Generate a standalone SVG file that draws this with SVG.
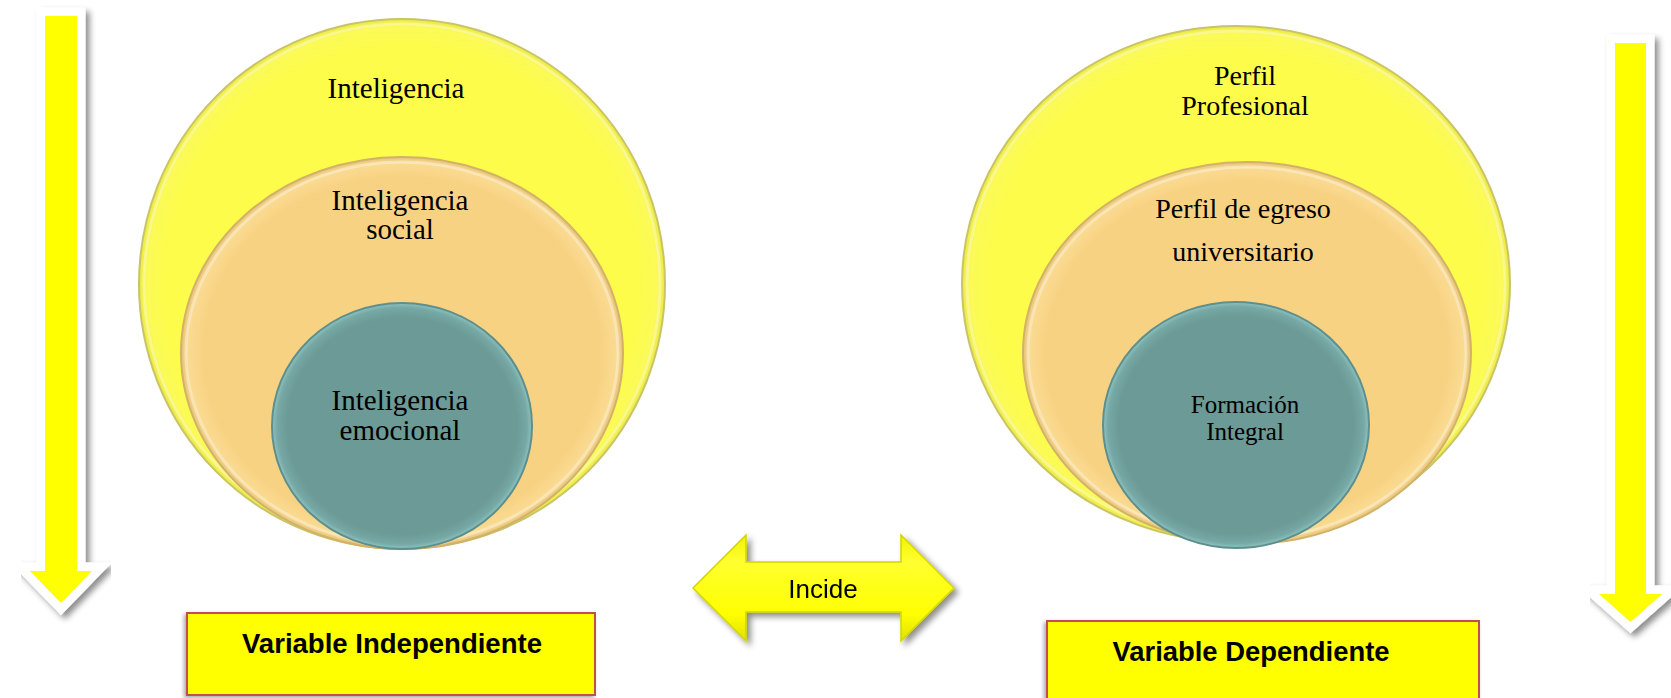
<svg xmlns="http://www.w3.org/2000/svg" width="1671" height="698" viewBox="0 0 1671 698">
<style>
.serif{font-family:"Liberation Serif","Times New Roman",serif;fill:#000;text-anchor:middle}
.sans{font-family:"Liberation Sans",Arial,sans-serif;fill:#000;text-anchor:middle}
.yc{fill:url(#gY);stroke:#c9c466;stroke-width:2}
.oc{fill:url(#gO);stroke:#d1b26a;stroke-width:2}
.tc{fill:url(#gT);stroke:#5f8f8c;stroke-width:2}
.ring{fill:none;stroke:#ffffff;stroke-opacity:0.35;stroke-width:3}
.box{fill:#ffff00;stroke:#c0504d;stroke-width:2}
.down{fill:#ffff00;stroke:#ffffff;stroke-width:17;stroke-linejoin:miter;stroke-miterlimit:6;paint-order:stroke}
</style>
<defs>
<filter id="sh" x="-20%" y="-20%" width="150%" height="150%">
<feGaussianBlur in="SourceAlpha" stdDeviation="3"/>
<feOffset dx="4" dy="4" result="b"/>
<feComponentTransfer><feFuncA type="linear" slope="0.45"/></feComponentTransfer>
<feMerge><feMergeNode/><feMergeNode in="SourceGraphic"/></feMerge>
</filter>
<filter id="sh2" x="-10%" y="-10%" width="120%" height="120%">
<feGaussianBlur in="SourceAlpha" stdDeviation="2"/>
<feOffset dx="-2" dy="2" result="b"/>
<feComponentTransfer><feFuncA type="linear" slope="0.35"/></feComponentTransfer>
<feMerge><feMergeNode/><feMergeNode in="SourceGraphic"/></feMerge>
</filter>
<radialGradient id="gY" cx="50%" cy="50%" r="50%">
<stop offset="0.9" stop-color="#fdfc4b"/>
<stop offset="0.97" stop-color="#fbfa58"/>
<stop offset="1" stop-color="#ecea45"/>
</radialGradient>
<radialGradient id="gO" cx="50%" cy="50%" r="50%">
<stop offset="0.9" stop-color="#f8d283"/>
<stop offset="0.97" stop-color="#fadb92"/>
<stop offset="1" stop-color="#e8c378"/>
</radialGradient>
<radialGradient id="gT" cx="50%" cy="50%" r="50%">
<stop offset="0.88" stop-color="#6c9a96"/>
<stop offset="0.96" stop-color="#76a8a5"/>
<stop offset="1" stop-color="#8cc4c2"/>
</radialGradient>
<linearGradient id="gA" x1="0" y1="0" x2="0" y2="1">
<stop offset="0" stop-color="#f2f200"/>
<stop offset="0.25" stop-color="#ffff30"/>
<stop offset="0.75" stop-color="#ffff00"/>
<stop offset="1" stop-color="#e0e000"/>
</linearGradient>
</defs>

<g id="connectors">
<path id="arrow-left-down" class="down" filter="url(#sh)" d="M45,16 H77 V571 H92 L61,603 L30,571 H45 Z"/>
<path id="arrow-right-down" class="down" filter="url(#sh)" d="M1615,43 H1646 V594 H1662 L1630.5,622 L1599,594 H1615 Z"/>
<g id="incide" filter="url(#sh)">
<path d="M693,588 L746,535 L746,562 L901,562 L901,535 L954,588 L901,641 L901,612 L746,612 L746,641 Z" fill="url(#gA)" stroke="#d4d400" stroke-width="1.5"/>
<text class="sans" x="823" y="598" font-size="26">Incide</text>
</g>
</g>

<g id="left-set">
<g id="inteligencia">
<ellipse class="yc" cx="402" cy="284" rx="263" ry="265"/>
<ellipse class="ring" cx="402" cy="284" rx="258" ry="260"/>
<text class="serif" x="396" y="98" font-size="29">Inteligencia</text>
</g>
<g id="inteligencia-social">
<ellipse class="oc" cx="402" cy="353" rx="221" ry="196"/>
<ellipse class="ring" cx="402" cy="353" rx="216" ry="191"/>
<text class="serif" x="400" y="210" font-size="29">Inteligencia</text>
<text class="serif" x="400" y="239" font-size="29">social</text>
</g>
<g id="inteligencia-emocional">
<ellipse class="tc" cx="402" cy="426" rx="130" ry="123"/>
<text class="serif" x="400" y="410" font-size="29">Inteligencia</text>
<text class="serif" x="400" y="440" font-size="29">emocional</text>
</g>
</g>

<g id="right-set">
<g id="perfil-profesional">
<ellipse class="yc" cx="1236" cy="284" rx="274" ry="258"/>
<ellipse class="ring" cx="1236" cy="284" rx="269" ry="253"/>
<text class="serif" x="1245" y="85" font-size="28">Perfil</text>
<text class="serif" x="1245" y="115" font-size="28">Profesional</text>
</g>
<g id="perfil-egreso">
<ellipse class="oc" cx="1247" cy="353" rx="224" ry="191"/>
<ellipse class="ring" cx="1247" cy="353" rx="219" ry="186"/>
<text class="serif" x="1243" y="218" font-size="28">Perfil de egreso</text>
<text class="serif" x="1243" y="261" font-size="28">universitario</text>
</g>
<g id="formacion-integral">
<ellipse class="tc" cx="1236" cy="425" rx="133" ry="123"/>
<text class="serif" x="1245" y="413" font-size="25">Formación</text>
<text class="serif" x="1245" y="440" font-size="25">Integral</text>
</g>
</g>

<g id="var-independiente">
<rect class="box" filter="url(#sh2)" x="187" y="613" width="408" height="82"/>
<text class="sans" x="392" y="653" font-size="27" font-weight="bold" textLength="300" lengthAdjust="spacingAndGlyphs">Variable Independiente</text>
</g>
<g id="var-dependiente">
<rect class="box" filter="url(#sh2)" x="1047" y="621" width="432" height="84"/>
<text class="sans" x="1251" y="661" font-size="27" font-weight="bold" textLength="277" lengthAdjust="spacingAndGlyphs">Variable Dependiente</text>
</g>
</svg>
